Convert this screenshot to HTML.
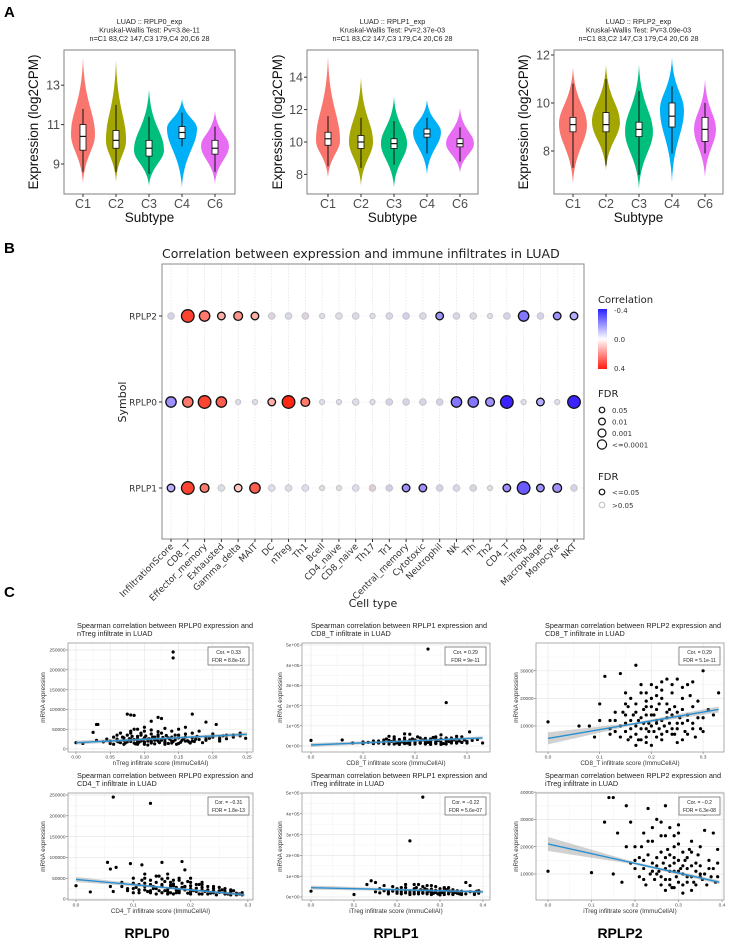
<!DOCTYPE html>
<html><head><meta charset="utf-8">
<style>
html,body{margin:0;padding:0;background:#fff;}
svg{display:block;font-family:"Liberation Sans",Arial,sans-serif;}
</style></head>
<body>
<svg id="fig" width="751" height="944" viewBox="0 0 751 944" xmlns="http://www.w3.org/2000/svg">
<text x="4" y="17" font-size="15" font-weight="bold">A</text>
<text x="4" y="253" font-size="15" font-weight="bold">B</text>
<text x="4" y="597" font-size="15" font-weight="bold">C</text>
<g id="panelA"></g>
<g id="panelB"></g>
<g id="panelC"></g>
<text x="147" y="938" font-size="14" font-weight="bold" text-anchor="middle">RPLP0</text>
<text x="396" y="938" font-size="14" font-weight="bold" text-anchor="middle">RPLP1</text>
<text x="620" y="938" font-size="14" font-weight="bold" text-anchor="middle">RPLP2</text>
</svg>
<script>
// ---------- Panel A data ----------
const subtypes=['C1','C2','C3','C4','C6'];
const subtypeColors=['#F8766D','#A3A500','#00BF7D','#00B0F6','#E76BF3'];
const rplp0Lo=[8.0,8.1,7.9,7.8,8.0], rplp0Hi=[14.4,14.3,12.8,12.3,11.7], rplp0Mode=[10.5,10.2,9.7,10.8,9.9], rplp0Dens=[0.8,0.67,1.0,1.0,0.93];
const rplp0Q1=[9.7,9.8,9.4,10.3,9.5], rplp0Med=[10.4,10.2,9.8,10.6,9.8], rplp0Q3=[11.0,10.7,10.2,10.9,10.2], rplp0WLo=[8.6,8.6,8.5,9.9,8.6], rplp0WHi=[11.8,12.0,11.4,11.6,10.9];
const rplp1Lo=[7.8,7.3,7.2,8.0,8.1], rplp1Hi=[15.3,14.0,12.8,12.6,12.1], rplp1Mode=[10.1,10.0,9.9,10.6,9.9], rplp1Dens=[0.8,0.8,0.87,0.93,0.93];
const rplp1Q1=[9.8,9.6,9.6,10.3,9.7], rplp1Med=[10.2,10.0,9.9,10.5,9.9], rplp1Q3=[10.6,10.4,10.2,10.8,10.2], rplp1WLo=[8.5,8.4,8.6,9.3,8.8], rplp1WHi=[11.6,11.5,11.3,11.5,10.9];
const rplp2Lo=[6.65,7.2,6.4,6.7,6.9], rplp2Hi=[11.5,11.6,11.6,11.9,11.0], rplp2Mode=[9.1,9.2,8.8,9.7,8.9], rplp2Dens=[0.93,0.93,0.93,0.8,0.73];
const rplp2Q1=[8.8,8.8,8.6,9.0,8.4], rplp2Med=[9.1,9.1,8.9,9.45,8.9], rplp2Q3=[9.4,9.6,9.2,10.0,9.4], rplp2WLo=[7.3,7.4,7.0,7.9,7.9], rplp2WHi=[10.8,11.0,10.5,10.7,10.0];
const rplp0Ticks=[9,11,13], rplp1Ticks=[8,10,12,14], rplp2Ticks=[8,10,12];

// ---------- Panel B data ----------
const cellTypes=['InfiltrationScore','CD8_T','Effector_memory','Exhausted','Gamma_delta','MAIT','DC','nTreg','Th1','Bcell','CD4_naive','CD8_naive','Th17','Tr1','Central_memory','Cytotoxic','Neutrophil','NK','Tfh','Th2','CD4_T','iTreg','Macrophage','Monocyte','NKT'];
const symbols=['RPLP2','RPLP0','RPLP1'];
const corrRPLP2=[-0.05,0.35,0.25,0.15,0.2,0.15,0.05,-0.02,0.05,0,0,-0.02,0,-0.03,-0.06,-0.02,-0.2,-0.03,0.03,0,-0.05,-0.25,-0.05,-0.2,-0.15];
const fdrRPLP2=[0.2,0.00001,0.0005,0.02,0.01,0.02,0.2,0.2,0.2,0.6,0.2,0.2,0.6,0.2,0.1,0.2,0.02,0.2,0.2,0.6,0.1,0.0005,0.1,0.02,0.02];
const corrRPLP0=[-0.2,0.25,0.35,0.3,0,0,0.15,0.4,0.25,0,0,0,0,-0.05,-0.04,-0.04,-0.05,-0.25,-0.25,-0.2,-0.4,0,-0.15,0,-0.4];
const fdrRPLP0=[0.0005,0.0005,0.00001,0.0005,0.6,0.6,0.02,0.00001,0.005,0.6,0.6,0.2,0.6,0.1,0.1,0.1,0.1,0.0005,0.0005,0.005,0.00001,0.6,0.02,0.6,0.00001];
const corrRPLP1=[-0.15,0.35,0.25,0,0.1,0.3,0,0,0,0,0,0,0.08,-0.08,-0.2,-0.2,-0.05,-0.02,0.05,0,-0.2,-0.3,-0.2,-0.2,-0.05];
const fdrRPLP1=[0.02,0.00001,0.005,0.2,0.02,0.0005,0.2,0.1,0.2,0.6,0.6,0.2,0.1,0.1,0.02,0.02,0.1,0.2,0.1,0.6,0.02,0.0001,0.02,0.005,0.1];
const corrLegendTicks=[-0.4,0.0,0.4];
const fdrLegendLevels=['0.05','0.01','0.001','<=0.0001'];

// ---------- Panel C data (x = infiltrate score, y = expression in thousands) ----------
const c1tX=[0.0,0.01,0.03,0.032,0.025,0.03,0.04,0.045,0.05,0.055,0.06,0.065,0.07,0.075,0.08,0.085,0.08,0.085,0.09,0.09,0.095,0.1,0.1,0.105,0.11,0.11,0.115,0.12,0.12,0.125,0.125,0.13,0.135,0.14,0.145,0.142,0.142,0.15,0.155,0.16,0.165,0.17,0.17,0.175,0.18,0.19,0.19,0.2,0.205,0.21,0.22,0.23,0.24,0.248,0.06,0.07,0.075,0.08,0.085,0.09,0.095,0.1,0.105,0.11,0.115,0.12,0.13,0.14,0.15,0.16,0.07,0.09,0.11,0.13,0.15,0.17,0.19,0.21,0.1,0.12];
const c1tY=[16,14,62,62,42,22,18,25,14,30,20,16,28,88,86,85,40,50,22,12,35,45,18,25,15,70,30,80,20,77,40,12,28,20,35,230,245,50,22,30,18,88,40,25,45,68,30,38,62,25,35,30,40,27,35,12,18,25,15,32,20,28,10,38,22,32,24,15,28,20,22,18,20,16,14,20,24,28,12,22];
const c1tExtra=[[0.05,20],[0.055,12],[0.06,25],[0.062,18],[0.068,30],[0.07,22],[0.072,15],[0.078,26],[0.08,19],[0.082,32],[0.085,24],[0.087,13],[0.09,27],[0.092,17],[0.095,40],[0.097,23],[0.1,14],[0.102,33],[0.105,20],[0.107,26],[0.11,17],[0.112,30],[0.115,13],[0.117,24],[0.12,36],[0.122,16],[0.125,22],[0.127,29],[0.13,18],[0.132,34],[0.135,14],[0.137,25],[0.14,30],[0.142,19],[0.145,23],[0.147,12],[0.15,35],[0.153,17],[0.157,26],[0.16,38],[0.163,21],[0.167,15],[0.17,28],[0.173,19],[0.177,32],[0.18,24],[0.185,16],[0.19,22],[0.195,27],[0.2,30],[0.21,20],[0.215,33],[0.22,26],[0.23,35],[0.24,33],[0.09,50],[0.1,55],[0.11,48],[0.13,52],[0.14,45],[0.16,55],[0.12,44],[0.08,45],[0.075,35],[0.065,40]];
const c1bX=[0,0.025,0.055,0.06,0.065,0.07,0.06,0.065,0.08,0.09,0.095,0.1,0.1,0.11,0.115,0.12,0.12,0.13,0.13,0.135,0.14,0.15,0.15,0.155,0.16,0.165,0.17,0.175,0.18,0.185,0.19,0.19,0.2,0.2,0.21,0.215,0.22,0.23,0.24,0.25,0.26,0.27,0.28,0.29,0.14,0.16,0.17,0.18,0.12,0.15,0.2,0.22,0.24,0.13,0.145,0.165,0.175,0.185,0.25,0.16,0.18,0.2,0.22,0.26,0.27];
const c1bY=[32,17,88,72,245,76,30,18,40,25,85,50,15,35,82,60,22,230,45,30,12,88,35,20,60,28,45,15,50,90,30,70,25,40,18,35,22,30,15,20,12,18,10,15,25,18,32,20,38,48,12,35,25,20,55,40,22,28,28,12,15,18,12,15,22];
const c1bExtra=[[0.08,30],[0.09,20],[0.1,38],[0.105,28],[0.11,22],[0.115,45],[0.12,30],[0.125,18],[0.13,35],[0.135,25],[0.14,40],[0.145,20],[0.15,30],[0.155,42],[0.16,24],[0.165,15],[0.17,36],[0.175,28],[0.18,18],[0.185,38],[0.19,22],[0.195,14],[0.2,32],[0.205,20],[0.21,26],[0.215,12],[0.22,28],[0.225,18],[0.23,22],[0.235,14],[0.24,20],[0.245,10],[0.25,16],[0.255,22],[0.26,18],[0.265,12],[0.27,15],[0.275,20],[0.28,14],[0.285,12],[0.29,10],[0.14,55],[0.16,50],[0.18,45],[0.2,50],[0.12,50],[0.22,40],[0.24,30],[0.15,15],[0.17,12],[0.19,30],[0.21,35],[0.23,12],[0.13,15],[0.11,15],[0.1,25],[0.26,25],[0.27,10],[0.165,33],[0.195,42]];
const c2tX=[0,0.06,0.08,0.1,0.12,0.13,0.14,0.15,0.15,0.16,0.17,0.18,0.19,0.19,0.2,0.2,0.21,0.22,0.225,0.23,0.24,0.25,0.26,0.26,0.27,0.28,0.29,0.3,0.305,0.32,0.33,0.14,0.16,0.17,0.18,0.2,0.22,0.24,0.26,0.28,0.15,0.18,0.21,0.23,0.25,0.27,0.12,0.19,0.22,0.24,0.13,0.17,0.21,0.25,0.29];
const c2tY=[28,30,15,20,22,25,30,48,18,35,22,60,58,30,25,15,40,28,480,18,32,55,215,25,30,20,45,22,70,32,15,12,10,14,12,10,14,12,10,14,28,24,20,35,18,22,12,18,22,20,15,16,14,16,18];
const c2tExtra=[[0.1,12],[0.11,18],[0.12,25],[0.13,15],[0.14,20],[0.145,35],[0.15,10],[0.155,22],[0.16,28],[0.165,15],[0.17,32],[0.175,20],[0.18,40],[0.185,14],[0.19,25],[0.195,35],[0.2,20],[0.205,45],[0.21,14],[0.215,30],[0.22,38],[0.225,18],[0.23,25],[0.235,42],[0.24,15],[0.245,28],[0.25,35],[0.255,12],[0.26,40],[0.265,22],[0.27,15],[0.275,30],[0.28,38],[0.285,25],[0.29,18],[0.295,30],[0.3,15],[0.31,28],[0.18,30],[0.2,30],[0.22,10],[0.24,45],[0.26,32],[0.28,48],[0.16,45],[0.17,8],[0.19,8],[0.21,22],[0.23,8],[0.25,8],[0.27,40]];
const c2bX=[0,0.1,0.13,0.14,0.15,0.16,0.17,0.18,0.19,0.2,0.21,0.22,0.23,0.24,0.25,0.26,0.26,0.27,0.28,0.29,0.3,0.31,0.32,0.33,0.34,0.35,0.36,0.37,0.38,0.39,0.2,0.22,0.24,0.26,0.28,0.3,0.32,0.25,0.27,0.29,0.31,0.33,0.21,0.23,0.18,0.28,0.3,0.34];
const c2bY=[28,12,60,78,70,40,55,30,50,35,25,60,270,40,60,480,30,55,25,50,20,45,30,15,25,20,70,55,20,30,18,20,15,18,12,10,15,25,35,28,25,35,45,30,20,15,30,18];
const c2bExtra=[[0.15,25],[0.16,20],[0.17,30],[0.18,15],[0.19,28],[0.2,40],[0.21,15],[0.22,30],[0.23,20],[0.24,25],[0.245,45],[0.25,15],[0.255,35],[0.26,22],[0.265,40],[0.27,15],[0.275,28],[0.28,38],[0.285,18],[0.29,32],[0.295,15],[0.3,30],[0.305,22],[0.31,12],[0.315,35],[0.32,20],[0.325,28],[0.33,12],[0.335,22],[0.34,30],[0.345,15],[0.35,28],[0.36,15],[0.37,25],[0.38,12],[0.385,28],[0.39,18],[0.24,60],[0.28,55],[0.3,40],[0.32,45],[0.26,50],[0.22,45],[0.2,25],[0.23,12],[0.27,22],[0.29,22],[0.31,40],[0.33,25],[0.35,12]];
const c3tX=[0,0.06,0.08,0.09,0.1,0.1,0.11,0.12,0.13,0.14,0.14,0.15,0.15,0.16,0.17,0.17,0.18,0.18,0.19,0.19,0.2,0.2,0.21,0.21,0.22,0.22,0.23,0.23,0.24,0.24,0.25,0.25,0.26,0.26,0.27,0.27,0.28,0.29,0.3,0.3,0.31,0.32,0.33,0.16,0.17,0.18,0.19,0.2,0.21,0.22,0.23,0.24,0.25,0.12,0.13,0.19,0.2,0.21,0.22,0.15,0.28,0.26,0.185,0.205,0.215,0.235,0.245,0.155,0.175,0.195];
const c3tY=[11.5,10,10,6,18,12,28,7,15,29,10,8,22,12,32,18,5,25,14,9,20,3,16,11,26,7,18,13,22,9,27,15,11,20,25,7,17,13,30,8,16,14,22,6,10,13,17,10,6,12,8,14,11,12,8,22,25,24,20,14,9,5,11,14,9,16,7,17,5,8];
const c3tExtra=[[0.12,9],[0.13,12],[0.14,6],[0.145,15],[0.15,11],[0.155,5],[0.16,9],[0.165,14],[0.17,7],[0.175,12],[0.18,9],[0.185,16],[0.19,6],[0.195,11],[0.2,14],[0.205,8],[0.21,12],[0.215,18],[0.22,5],[0.225,10],[0.23,15],[0.235,11],[0.24,7],[0.245,17],[0.25,9],[0.255,13],[0.26,16],[0.265,8],[0.27,12],[0.275,21],[0.28,11],[0.285,6],[0.29,19],[0.295,9],[0.3,13],[0.16,20],[0.18,22],[0.2,17],[0.22,23],[0.24,25],[0.26,24],[0.28,26],[0.23,27],[0.21,21],[0.19,19],[0.17,15],[0.15,18],[0.25,4],[0.27,14],[0.19,4],[0.17,3]];
const c3bX=[0,0.1,0.13,0.14,0.15,0.15,0.16,0.17,0.18,0.19,0.2,0.2,0.21,0.22,0.23,0.23,0.24,0.25,0.25,0.26,0.26,0.27,0.27,0.28,0.28,0.29,0.29,0.3,0.3,0.31,0.31,0.32,0.32,0.33,0.33,0.34,0.35,0.36,0.36,0.37,0.38,0.39,0.39,0.22,0.24,0.26,0.27,0.28,0.29,0.3,0.31,0.32,0.33,0.34,0.25,0.3,0.29,0.27,0.35,0.28];
const c3bY=[11,10.5,29,38,38,10,25,7,35,29,20,12,16,8,34,22,14,30,10,18,6,35,24,13,8,20,5,28,15,10,18,7,12,22,4,14,9,32,26,12,25,19,9,15,11,9,12,17,11,7,13,16,9,6,13,11,14,16,10,6];
const c3bExtra=[[0.2,15],[0.21,9],[0.215,20],[0.22,12],[0.225,6],[0.23,17],[0.235,10],[0.24,22],[0.245,8],[0.25,16],[0.255,11],[0.26,24],[0.265,14],[0.27,8],[0.275,19],[0.28,11],[0.285,5],[0.29,16],[0.295,9],[0.3,21],[0.305,12],[0.31,6],[0.315,15],[0.32,9],[0.325,19],[0.33,13],[0.335,7],[0.34,11],[0.345,17],[0.35,13],[0.355,8],[0.36,10],[0.365,6],[0.37,15],[0.375,9],[0.38,12],[0.385,7],[0.39,14],[0.26,29],[0.28,27],[0.3,25],[0.24,27],[0.22,25],[0.18,20],[0.19,14],[0.27,4],[0.31,3],[0.33,18],[0.29,24],[0.35,20]];
const c1tLine=[16,37], c1bLine=[47,10], c2tLine=[5,40], c2bLine=[45,25], c3tLine=[5.5,16], c3bLine=[21,7];
const c1tXTicks=[0,0.05,0.1,0.15,0.2,0.25], c1tXLabels=['0.00','0.05','0.10','0.15','0.20','0.25'];
const c1YTicks=[0,50,100,150,200,250], c1YLabels=['0','50000','100000','150000','200000','250000'];
const x03Ticks=[0,0.1,0.2,0.3], x03Labels=['0.0','0.1','0.2','0.3'];
const x04Ticks=[0,0.1,0.2,0.3,0.4], x04Labels=['0.0','0.1','0.2','0.3','0.4'];
const c2YTicks=[0,100,200,300,400,500], c2YLabels=['0e+00','1e+05','2e+05','3e+05','4e+05','5e+05'];
const c3tYTicks=[10,20,30], c3tYLabels=['10000','20000','30000'];
const c3bYTicks=[10,20,30,40], c3bYLabels=['10000','20000','30000','40000'];

const NS='http://www.w3.org/2000/svg';
function mk(parent,tag,attrs,text){const e=document.createElementNS(NS,tag);for(const k in attrs)e.setAttribute(k,attrs[k]);if(text!==undefined)e.textContent=text;parent.appendChild(e);return e;}

// ---------- Panel A ----------
const A=document.getElementById('panelA');
function violinPlot(o){
  const g=mk(A,'g',{});
  
  
  const yS=v=>o.y0-(v-o.v0)*o.k;
  o.title.forEach((t,i)=>{const tt=mk(g,'text',{x:(o.bx0+o.bx1)/2,y:24+i*8.5,'font-size':7.2,'text-anchor':'middle',fill:'#222'},t);
    
    });
  const box=mk(g,'rect',{x:o.bx0,y:50,width:o.bx1-o.bx0,height:144,fill:'none',stroke:'#7f7f7f','stroke-width':1});
  
  
  o.ticks.forEach(t=>{const y=yS(t);
    mk(g,'line',{x1:o.bx0-3,x2:o.bx0,y1:y,y2:y,stroke:'#333'});
    const tl=mk(g,'text',{x:o.bx0-4,y:y+4.5,'font-size':12.5,'text-anchor':'end',fill:'#4d4d4d'},String(t));
    
    });
  subtypes.forEach((s,i)=>{
    const x=o.cx0+i*o.step, w=o.dens[i]*15;
    const yh=yS(o.hi[i]), yl=yS(o.lo[i]), ym=yS(o.mode[i]);
    const p=`M${x},${yh} C${x+w*0.12},${yh+(ym-yh)*0.6} ${x+w},${ym-(ym-yh)*0.3} ${x+w},${ym} C${x+w},${ym+(yl-ym)*0.3} ${x+w*0.12},${yl-(yl-ym)*0.55} ${x},${yl} C${x-w*0.12},${yl-(yl-ym)*0.55} ${x-w},${ym+(yl-ym)*0.3} ${x-w},${ym} C${x-w},${ym-(ym-yh)*0.3} ${x-w*0.12},${yh+(ym-yh)*0.6} ${x},${yh}Z`;
    const v=mk(g,'path',{d:p,fill:subtypeColors[i]});
    
    
    mk(g,'line',{x1:x,x2:x,y1:yS(o.wlo[i]),y2:yS(o.whi[i]),stroke:'#111','stroke-width':1});
    const b=mk(g,'rect',{x:x-3,y:yS(o.q3[i]),width:6,height:yS(o.q1[i])-yS(o.q3[i]),fill:'#fff',stroke:'#111','stroke-width':0.8});
    
    
    mk(g,'line',{x1:x-3,x2:x+3,y1:yS(o.med[i]),y2:yS(o.med[i]),stroke:'#111','stroke-width':1.2});
    mk(g,'line',{x1:x,x2:x,y1:194,y2:197,stroke:'#333'});
    const xl=mk(g,'text',{x:x,y:208,'font-size':12.5,'text-anchor':'middle',fill:'#4d4d4d'},s);
    
    
  });
  const xt=mk(g,'text',{x:(o.bx0+o.bx1)/2,y:222,'font-size':13.5,'text-anchor':'middle',fill:'#111'},'Subtype');
  
  
  const yt=mk(g,'text',{x:0,y:0,'font-size':13.5,'text-anchor':'middle',fill:'#111',transform:`translate(${o.ylx},122) rotate(-90)`},'Expression (log2CPM)');
  
  
}
violinPlot({name:'violin-rplp0',bx0:64,bx1:235,y0:164,v0:9,k:19.7,cx0:83,step:33,ticks:rplp0Ticks,ylx:38,
  title:['LUAD :: RPLP0_exp','Kruskal-Wallis Test: Pv=3.8e-11','n=C1 83,C2 147,C3 179,C4 20,C6 28'],
  lo:rplp0Lo,hi:rplp0Hi,mode:rplp0Mode,dens:rplp0Dens,q1:rplp0Q1,med:rplp0Med,q3:rplp0Q3,wlo:rplp0WLo,whi:rplp0WHi});
violinPlot({name:'violin-rplp1',bx0:307,bx1:478,y0:142,v0:10,k:16.2,cx0:328,step:33,ticks:rplp1Ticks,ylx:282,
  title:['LUAD :: RPLP1_exp','Kruskal-Wallis Test: Pv=2.37e-03','n=C1 83,C2 147,C3 179,C4 20,C6 28'],
  lo:rplp1Lo,hi:rplp1Hi,mode:rplp1Mode,dens:rplp1Dens,q1:rplp1Q1,med:rplp1Med,q3:rplp1Q3,wlo:rplp1WLo,whi:rplp1WHi});
violinPlot({name:'violin-rplp2',bx0:554,bx1:723,y0:103,v0:10,k:24,cx0:573,step:33,ticks:rplp2Ticks,ylx:528,
  title:['LUAD :: RPLP2_exp','Kruskal-Wallis Test: Pv=3.09e-03','n=C1 83,C2 147,C3 179,C4 20,C6 28'],
  lo:rplp2Lo,hi:rplp2Hi,mode:rplp2Mode,dens:rplp2Dens,q1:rplp2Q1,med:rplp2Med,q3:rplp2Q3,wlo:rplp2WLo,whi:rplp2WHi});

// ---------- Panel B ----------
const B=document.getElementById('panelB');
B.setAttribute('font-family','"DejaVu Sans",sans-serif');
const bx0=162,bx1=584,by0=264,by1=539,colX0=171,colStep=(574-171)/24,rowY=[316,402,488];
const colX=i=>colX0+i*colStep;
function mix(a,b,t){return a.map((v,i)=>Math.round(v+(b[i]-v)*t));}
function corrColor(c){const t=Math.min(1,Math.abs(c)/0.4);const end=c<0?[58,35,255]:[255,40,20];return mix([255,255,255],end,t);}
function rad(f){if(f<=0.0001)return 6.3;if(f<=0.001)return 5.2;if(f<=0.01)return 4.4;if(f<=0.05)return 3.8;return f>0.5?2.6:3.3;}
const bt=mk(B,'text',{x:162,y:258,'font-size':12.5,fill:'#222'},'Correlation between expression and immune infiltrates in LUAD');


cellTypes.forEach((c,i)=>{mk(B,'line',{x1:colX(i),x2:colX(i),y1:by0,y2:by1,stroke:'#dcdcdc','stroke-width':0.6,'stroke-dasharray':'1.5,1.5'});});
rowY.forEach(y=>mk(B,'line',{x1:bx0,x2:bx1,y1:y,y2:y,stroke:'#e6e6e6','stroke-width':0.6,'stroke-dasharray':'1.5,1.5'}));
const bb=mk(B,'rect',{x:bx0,y:by0,width:bx1-bx0,height:by1-by0,fill:'none',stroke:'#888','stroke-width':1});


const corrRows=[corrRPLP2,corrRPLP0,corrRPLP1], fdrRows=[fdrRPLP2,fdrRPLP0,fdrRPLP1];
symbols.forEach((s,r)=>{
  const y=rowY[r];
  const lab=mk(B,'text',{x:157,y:y+3.5,'font-size':9,'text-anchor':'end',fill:'#333'},s);
  
  
  mk(B,'line',{x1:bx0-3,x2:bx0,y1:y,y2:y,stroke:'#333'});
  cellTypes.forEach((c,i)=>{
    const cv=corrRows[r][i], f=fdrRows[r][i], sig=f<=0.05;
    let col=corrColor(cv);
    if(!sig)col=mix(col,[200,200,215],0.6);
    const dot=mk(B,'circle',{cx:colX(i),cy:y,r:rad(f),fill:`rgb(${col})`,stroke:sig?'#111':'#c4c4cc','stroke-width':sig?1.3:1});
    
    
  });
});
cellTypes.forEach((c,i)=>{
  mk(B,'line',{x1:colX(i),x2:colX(i),y1:by1,y2:by1+3,stroke:'#333'});
  const t=mk(B,'text',{x:0,y:0,'font-size':9,'text-anchor':'end',fill:'#333',transform:`translate(${colX(i)+3},${by1+8}) rotate(-45)`},c);
  
  
});
const ctt=mk(B,'text',{x:373,y:607,'font-size':11,'text-anchor':'middle',fill:'#222'},'Cell type');


const syt=mk(B,'text',{x:0,y:0,'font-size':11,'text-anchor':'middle',fill:'#222',transform:'translate(126,402) rotate(-90)'},'Symbol');


// legend
const defs=mk(B,'defs',{});
const grad=mk(defs,'linearGradient',{id:'cg',x1:0,y1:0,x2:0,y2:1});
mk(grad,'stop',{offset:'0','stop-color':'#2a1fff'});mk(grad,'stop',{offset:'0.5','stop-color':'#ffffff'});mk(grad,'stop',{offset:'1','stop-color':'#ff1a10'});
const lt=mk(B,'text',{x:598,y:303,'font-size':10,fill:'#222'},'Correlation');


const gb=mk(B,'rect',{x:598,y:309,width:9,height:60,fill:'url(#cg)'});


corrLegendTicks.forEach(v=>{const y=339+v/0.4*29;const t=mk(B,'text',{x:614,y:y+3,'font-size':7,fill:'#333'},v.toFixed(1));
  
  });
const ft=mk(B,'text',{x:598,y:397,'font-size':10,fill:'#222'},'FDR');


fdrLegendLevels.forEach((l,i)=>{const y=410+i*11.5;
  const c=mk(B,'circle',{cx:602,cy:y,r:2.8+i*0.6,fill:'none',stroke:'#111','stroke-width':1.2});
  
  
  mk(B,'text',{x:612,y:y+3,'font-size':7,fill:'#333'},l);});
const ft2=mk(B,'text',{x:598,y:480,'font-size':10,fill:'#222'},'FDR');


[['<=0.05','#111'],['>0.05','#c4c4cc']].forEach((e,i)=>{const y=492+i*13;
  const c=mk(B,'circle',{cx:602,cy:y,r:2.8,fill:'#fff',stroke:e[1],'stroke-width':1.2});
  
  
  mk(B,'text',{x:612,y:y+3,'font-size':7,fill:'#333'},e[0]);});

// ---------- Panel C ----------
const C=document.getElementById('panelC');
function scatter(o){
  const g=mk(C,'g',{});
  
  
  const [x0,y0,x1,y1]=o.box;
  const xS=v=>o.xa+v*o.xk, yS=v=>o.ya-(v-o.yv)*o.yk;
  o.title.forEach((t,i)=>{const tt=mk(g,'text',{x:x0+9,y:y0-15+i*8,'font-size':7.3,fill:'#222'},t);
    
    });
  o.xt.forEach((t,i)=>{const x=xS(t);mk(g,'line',{x1:x,x2:x,y1:y0,y2:y1,stroke:'#e8e8e8','stroke-width':0.7});
    if(i<o.xt.length-1){const xm=(x+xS(o.xt[i+1]))/2;mk(g,'line',{x1:xm,x2:xm,y1:y0,y2:y1,stroke:'#f3f3f3','stroke-width':0.5});}
    mk(g,'line',{x1:x,x2:x,y1:y1,y2:y1+2,stroke:'#555','stroke-width':0.5});
    const l=mk(g,'text',{x:x,y:y1+6.5,'font-size':4.8,'text-anchor':'middle',fill:'#444'},o.xl[i]);
    
    });
  o.yt.forEach((t,i)=>{const y=yS(t);mk(g,'line',{x1:x0,x2:x1,y1:y,y2:y,stroke:'#e8e8e8','stroke-width':0.7});
    const ym=y-(o.yk*(o.yt[1]-o.yt[0]))/2; if(ym>y0)mk(g,'line',{x1:x0,x2:x1,y1:ym,y2:ym,stroke:'#f3f3f3','stroke-width':0.5});
    mk(g,'line',{x1:x0-2,x2:x0,y1:y,y2:y,stroke:'#555','stroke-width':0.5});
    const l=mk(g,'text',{x:x0-2.5,y:y+1.7,'font-size':4.8,'text-anchor':'end',fill:'#444'},o.yl[i]);
    
    });
  const r=mk(g,'rect',{x:x0,y:y0,width:x1-x0,height:y1-y0,fill:'none',stroke:'#999','stroke-width':0.8});
  
  
  const cp=mk(g,'clipPath',{id:'cp'+o.name});mk(cp,'rect',{x:x0,y:y0,width:x1-x0,height:y1-y0});
  const pg=mk(g,'g',{'clip-path':`url(#cp${o.name})`});
  const px=o.px.concat(o.extra.map(p=>p[0])), py=o.py.concat(o.extra.map(p=>p[1]));
  px.forEach((v,i)=>{const d=mk(pg,'circle',{cx:xS(v),cy:yS(py[i]),r:1.6,fill:'#000'});
    
    });
  const xe=o.xt[o.xt.length-1]*o.xmaxf;
  const la=[xS(0),yS(o.line[0])], lb=[xS(xe),yS(o.line[1])];
  mk(pg,'polygon',{points:`${la[0]},${la[1]-o.band[0]} ${(la[0]+lb[0])/2},${(la[1]+lb[1])/2-1.2} ${lb[0]},${lb[1]-o.band[1]} ${lb[0]},${lb[1]+o.band[1]} ${(la[0]+lb[0])/2},${(la[1]+lb[1])/2+1.2} ${la[0]},${la[1]+o.band[0]}`,fill:'#999','fill-opacity':0.45});
  const ln=mk(pg,'line',{x1:la[0],y1:la[1],x2:lb[0],y2:lb[1],stroke:'#2a8fd0','stroke-width':1.4});
  
  
  const cb=mk(g,'rect',{x:x1-45,y:y0+4,width:41,height:18,fill:'#fff',stroke:'#444','stroke-width':0.6});
  
  
  mk(g,'text',{x:x1-24.5,y:y0+11,'font-size':5,'text-anchor':'middle',fill:'#222'},o.cor);
  mk(g,'text',{x:x1-24.5,y:y0+19,'font-size':5,'text-anchor':'middle',fill:'#222'},o.fdr);
  const xt=mk(g,'text',{x:(x0+x1)/2,y:y1+13,'font-size':6.3,'text-anchor':'middle',fill:'#333'},o.xtitle);
  
  
  const yt=mk(g,'text',{x:0,y:0,'font-size':6.3,'text-anchor':'middle',fill:'#333',transform:`translate(${o.ylx},${(y0+y1)/2}) rotate(-90)`},'mRNA expression');
  
  
}
scatter({name:'scatter-rplp0-ntreg',box:[68,643,253,752],xa:76,xk:684,ya:749,yv:0,yk:0.396,xt:c1tXTicks,xl:c1tXLabels,yt:c1YTicks,yl:c1YLabels,px:c1tX,py:c1tY,extra:c1tExtra,line:c1tLine,band:[2,2],xmaxf:1,ylx:45,
  title:['Spearman correlation between RPLP0 expression and','nTreg infiltrate in LUAD'],cor:'Cor. = 0.33',fdr:'FDR = 8.8e-16',xtitle:'nTreg infiltrate score (ImmuCellAI)'});
scatter({name:'scatter-rplp0-cd4t',box:[68,793,253,900],xa:76,xk:573,ya:899,yv:0,yk:0.416,xt:x03Ticks,xl:x03Labels,yt:c1YTicks,yl:c1YLabels,px:c1bX,py:c1bY,extra:c1bExtra,line:c1bLine,band:[2.5,1.5],xmaxf:0.98,ylx:45,
  title:['Spearman correlation between RPLP0 expression and','CD4_T infiltrate in LUAD'],cor:'Cor. = \u22120.31',fdr:'FDR = 1.8e-13',xtitle:'CD4_T infiltrate score (ImmuCellAI)'});
scatter({name:'scatter-rplp1-cd8t',box:[302,643,490,752],xa:311,xk:520,ya:746,yv:0,yk:0.202,xt:x03Ticks,xl:x03Labels,yt:c2YTicks,yl:c2YLabels,px:c2tX,py:c2tY,extra:c2tExtra,line:c2tLine,band:[2,1.5],xmaxf:1.1,ylx:282,
  title:['Spearman correlation between RPLP1 expression and','CD8_T infiltrate in LUAD'],cor:'Cor. = 0.29',fdr:'FDR = 9e-11',xtitle:'CD8_T infiltrate score (ImmuCellAI)'});
scatter({name:'scatter-rplp1-itreg',box:[302,793,490,900],xa:311,xk:430,ya:897,yv:0,yk:0.208,xt:x04Ticks,xl:x04Labels,yt:c2YTicks,yl:c2YLabels,px:c2bX,py:c2bY,extra:c2bExtra,line:c2bLine,band:[2,1.5],xmaxf:1,ylx:282,
  title:['Spearman correlation between RPLP1 expression and','iTreg infiltrate in LUAD'],cor:'Cor. = \u22120.22',fdr:'FDR = 5.6e-07',xtitle:'iTreg infiltrate score (ImmuCellAI)'});
scatter({name:'scatter-rplp2-cd8t',box:[536,643,724,752],xa:548,xk:517,ya:726,yv:10,yk:2.76,xt:x03Ticks,xl:x03Labels,yt:c3tYTicks,yl:c3tYLabels,px:c3tX,py:c3tY,extra:c3tExtra,line:c3tLine,band:[6,3],xmaxf:1.1,ylx:518,
  title:['Spearman correlation between RPLP2 expression and','CD8_T infiltrate in LUAD'],cor:'Cor. = 0.29',fdr:'FDR = 5.1e-11',xtitle:'CD8_T infiltrate score (ImmuCellAI)'});
scatter({name:'scatter-rplp2-itreg',box:[536,793,724,900],xa:548,xk:435,ya:874,yv:10,yk:2.73,xt:x04Ticks,xl:x04Labels,yt:c3bYTicks,yl:c3bYLabels,px:c3bX,py:c3bY,extra:c3bExtra,line:c3bLine,band:[7,2],xmaxf:0.985,ylx:518,
  title:['Spearman correlation between RPLP2 expression and','iTreg infiltrate in LUAD'],cor:'Cor. = \u22120.2',fdr:'FDR = 6.3e-08',xtitle:'iTreg infiltrate score (ImmuCellAI)'});
</script>
</body></html>
